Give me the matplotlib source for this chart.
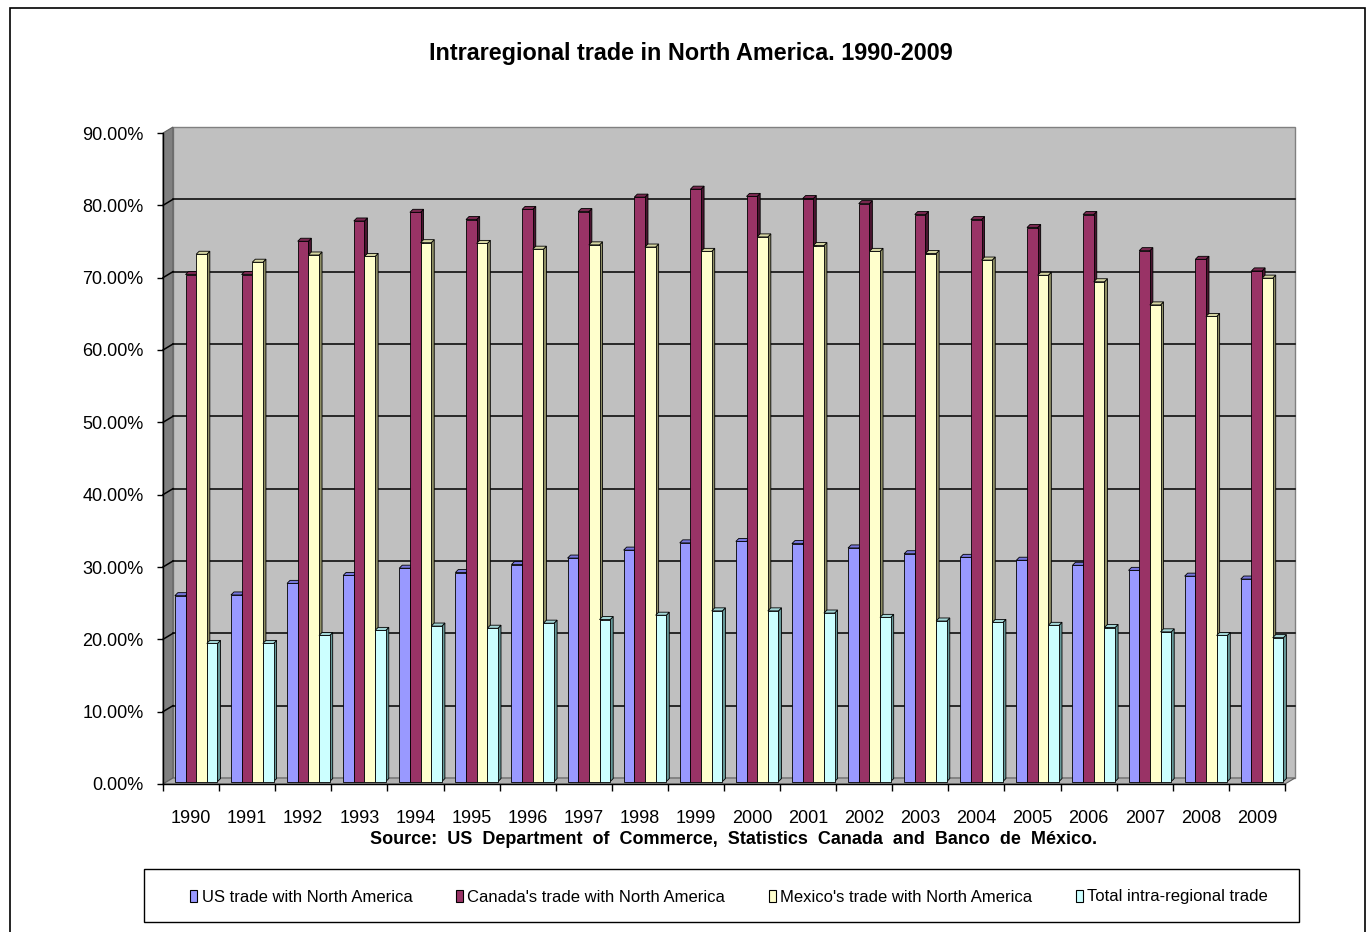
import numpy as np
import matplotlib.pyplot as plt
from matplotlib.patches import Polygon, Rectangle
from matplotlib.lines import Line2D

plt.rcParams['font.family'] = ['Liberation Sans', 'DejaVu Sans']

years = [str(y) for y in range(1990, 2010)]
us_trade = [25.7, 25.8, 27.4, 28.5, 29.5, 28.9, 30.0, 30.9, 32.0, 33.0,
            33.2, 32.9, 32.3, 31.5, 31.0, 30.6, 29.9, 29.2, 28.4, 28.0]
canada_trade = [70.1, 70.1, 74.7, 77.5, 78.7, 77.7, 79.1, 78.8, 80.8, 81.9,
                80.9, 80.6, 79.9, 78.4, 77.7, 76.6, 78.4, 73.4, 72.2, 70.6]
mexico_trade = [72.9, 71.8, 72.8, 72.6, 74.5, 74.4, 73.6, 74.2, 73.9, 73.3,
                75.3, 74.1, 73.3, 73.0, 72.1, 70.0, 69.1, 65.9, 64.3, 69.6]
total_trade = [19.1, 19.1, 20.2, 20.9, 21.5, 21.2, 21.9, 22.4, 23.0, 23.6,
               23.6, 23.3, 22.7, 22.2, 22.0, 21.6, 21.3, 20.7, 20.2, 19.9]
series_names = ["US trade with North America", "Canada's trade with North America",
                "Mexico's trade with North America", "Total intra-regional trade"]
y_ticks = list(range(0, 100, 10))

# front, top, side colours for each series
colors = [('#9999ff', '#7777dd', '#5c5cb8'),
          ('#993366', '#7a2850', '#4a1530'),
          ('#ffffcc', '#d6d6a3', '#8f8f66'),
          ('#ccffff', '#a3d6d6', '#669999')]

W, H = 1371, 932
fig = plt.figure(figsize=(W / 100, H / 100), dpi=100)

# outer frame
fig.add_artist(Rectangle((10 / W, -0.01), (1365 - 10) / W, 1 - 8 / H + 0.01,
                         transform=fig.transFigure, fill=False, ec='black', lw=1.2))

ax = fig.add_axes([163 / W, 1 - 784 / H, 1122 / W, 651 / H])
n = len(years)
ax.set_xlim(0, n)
ax.set_ylim(0, 90)

# depth of the 3d box (in data units)
ddx, ddy = 10 / 56.1, 0.83

back = Polygon([(ddx, ddy), (n + ddx, ddy), (n + ddx, 90 + ddy), (ddx, 90 + ddy)],
               closed=True, fc='#c0c0c0', ec='#808080', lw=1, clip_on=False, zorder=0)
ax.add_patch(back)
left_wall = Polygon([(0, 0), (ddx, ddy), (ddx, 90 + ddy), (0, 90)],
                    closed=True, fc='#808080', ec='#606060', lw=0.8, clip_on=False, zorder=0.5)
ax.add_patch(left_wall)
floor = Polygon([(0, 0), (n, 0), (n + ddx, ddy), (ddx, ddy)],
                closed=True, fc='#b0b0b0', ec='#606060', lw=0.8, clip_on=False, zorder=0.5)
ax.add_patch(floor)

for v in y_ticks[1:-1]:
    ax.add_line(Line2D([ddx, n + ddx], [v + ddy, v + ddy], color='black', lw=1.1,
                       clip_on=False, zorder=1))
    ax.add_line(Line2D([0, ddx], [v, v + ddy], color='black', lw=1.1,
                       clip_on=False, zorder=1))

# bars
all_series = [us_trade, canada_trade, mexico_trade, total_trade]
bw = 0.19
start = 0.14
f = 0.4
bdx, bdy = 3 / 56.1, 0.42
for i in range(n):
    for s, vals in enumerate(all_series):
        v = vals[i]
        x0 = i + start + f * ddx + s * bw
        y0 = f * ddy
        front_c, top_c, side_c = colors[s]
        side = Polygon([(x0 + bw, y0), (x0 + bw + bdx, y0 + bdy),
                        (x0 + bw + bdx, y0 + v + bdy), (x0 + bw, y0 + v)],
                       closed=True, fc=side_c, ec='black', lw=0.6, zorder=2, clip_on=False)
        top = Polygon([(x0, y0 + v), (x0 + bw, y0 + v),
                       (x0 + bw + bdx, y0 + v + bdy), (x0 + bdx, y0 + v + bdy)],
                      closed=True, fc=top_c, ec='black', lw=0.6, zorder=2, clip_on=False)
        front = Rectangle((x0, y0), bw, v, fc=front_c, ec='black', lw=0.6,
                          zorder=2, clip_on=False)
        ax.add_patch(side)
        ax.add_patch(top)
        ax.add_patch(front)

ax.set_facecolor('none')
for sp in ['top', 'right']:
    ax.spines[sp].set_visible(False)
ax.spines['left'].set_linewidth(1)
ax.spines['bottom'].set_linewidth(1)

ax.set_yticks(y_ticks)
ax.set_yticklabels(['%.2f%%' % v for v in y_ticks])
ax.tick_params(axis='y', direction='out', length=4, width=1, pad=10, labelsize=13)
ax.set_xticks(np.arange(n + 1))
ax.set_xticklabels([])
ax.tick_params(axis='x', which='major', direction='out', length=5, width=1)
ax.set_xticks(np.arange(n) + 0.5, minor=True)
ax.set_xticklabels(years, minor=True)
ax.tick_params(axis='x', which='minor', length=0, pad=18.5, labelsize=13)

fig.text(691 / W, 1 - 53.5 / H, 'Intraregional trade in North America. 1990-2009',
         ha='center', va='center', fontsize=16.8, fontweight='bold')
source = 'Source: US Department of Commerce, Statistics Canada and Banco de México.'
fig.text(734 / W, 1 - 840 / H, source.replace(' ', '  '),
         ha='center', va='center', fontsize=13, fontweight='bold')

# legend box
fig.add_artist(Rectangle((144 / W, 1 - 922 / H), (1299 - 144) / W, 53 / H,
                         transform=fig.transFigure, fill=False, ec='black', lw=1))
handles = [Rectangle((0, 0), 1, 1, fc=c[0], ec='black', lw=0.8) for c in colors]
leg = fig.legend(handles, series_names, loc='center', ncol=4,
                 bbox_to_anchor=(729 / W, 1 - 897 / H),
                 fontsize=12, frameon=False,
                 handlelength=0.45, handleheight=0.7,
                 handletextpad=0.25, columnspacing=2.6, borderaxespad=0)

fig.savefig('out.png', dpi=100)
